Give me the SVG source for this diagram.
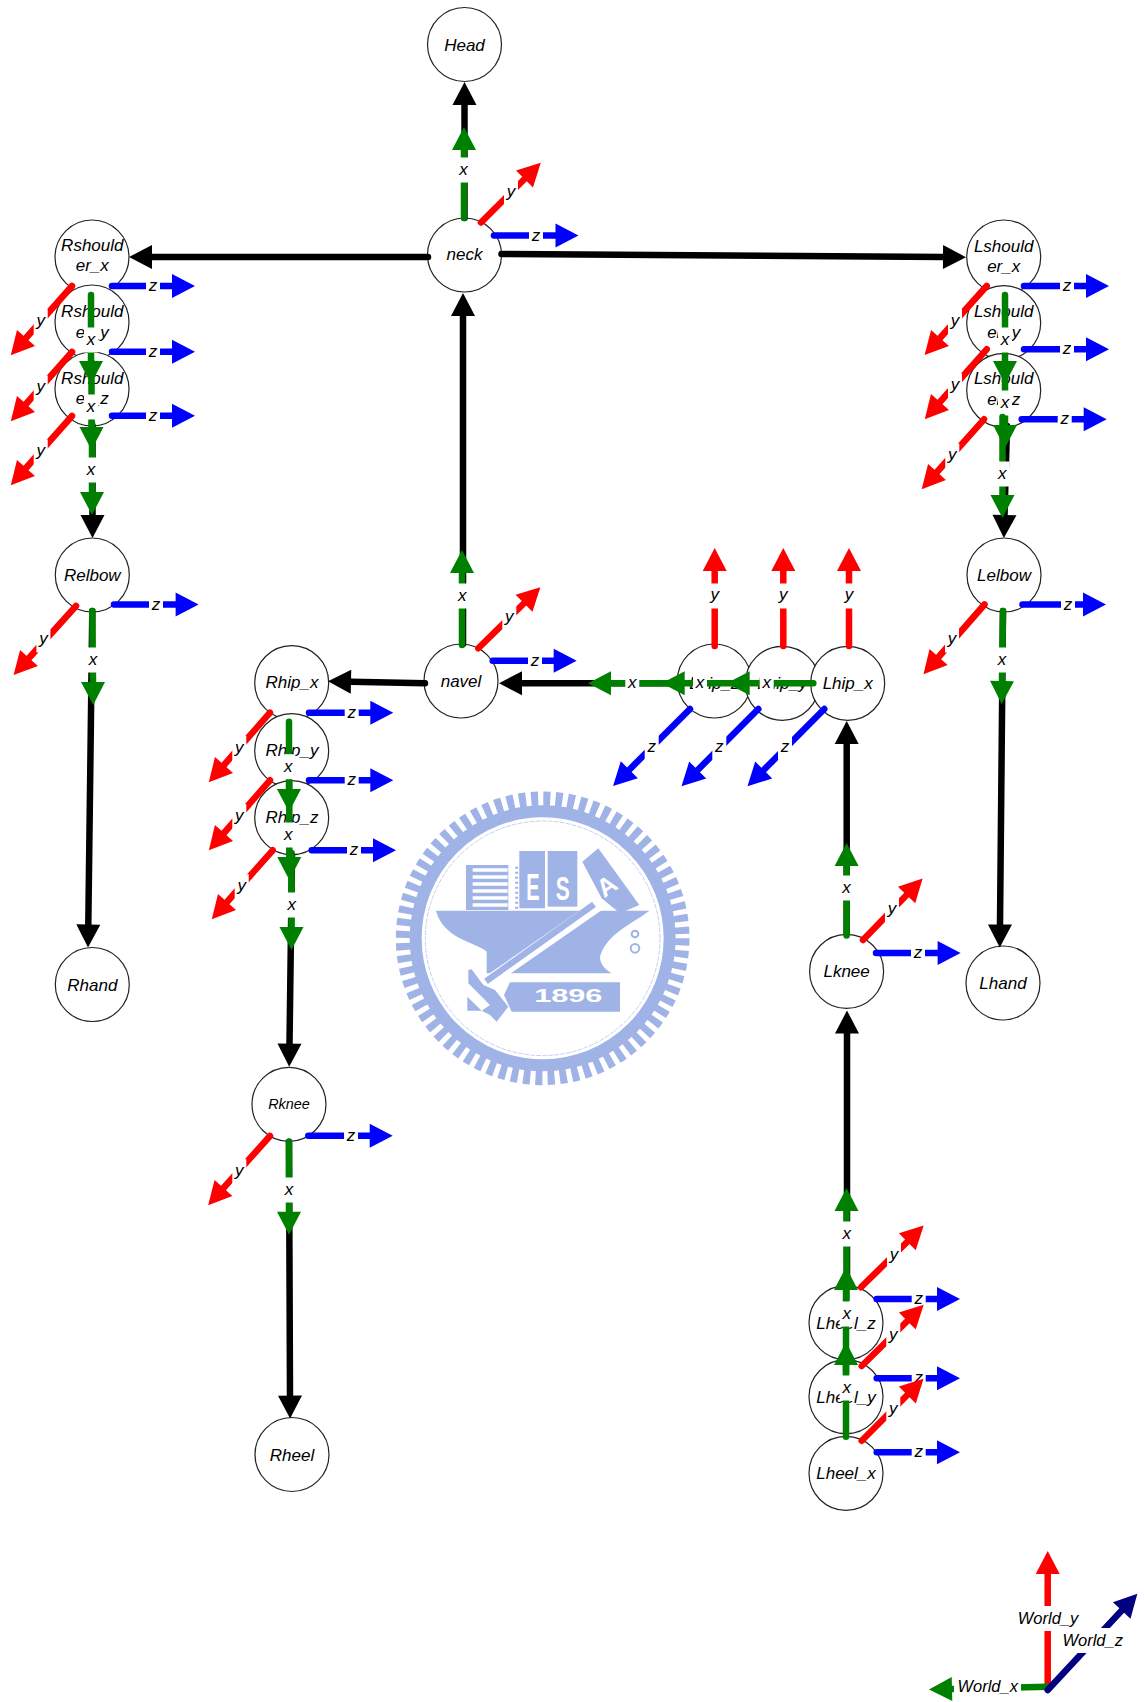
<svg xmlns="http://www.w3.org/2000/svg" width="1144" height="1702" viewBox="0 0 1144 1702">
<style>
text{font-family:"Liberation Sans",Arial,sans-serif;font-style:italic;font-size:17px;text-anchor:middle;fill:#000}
.n circle,circle.n{fill:#fff;stroke:#222;stroke-width:1.2}
.sm{font-size:14.4px}
.w{font-size:16.5px}
path.a{fill:none;stroke-width:6.5;stroke-linecap:round}
.k{stroke:#000;marker-end:url(#mk)}
.g{stroke:#008000;marker-end:url(#mg)}
.r{stroke:#f00;marker-end:url(#mr)}
.b{stroke:#00f;marker-end:url(#mb)}
.v{stroke:#000080;marker-end:url(#mv)}
.lg{fill:#a0b3e6}
</style>
<defs>
<marker id="mk" markerUnits="userSpaceOnUse" markerWidth="24" markerHeight="26" refX="0" refY="12" orient="auto" overflow="visible"><path d="M0 0L23 12L0 24z" fill="#000"/></marker>
<marker id="mg" markerUnits="userSpaceOnUse" markerWidth="24" markerHeight="26" refX="0" refY="12" orient="auto" overflow="visible"><path d="M0 0L23 12L0 24z" fill="#008000"/></marker>
<marker id="mr" markerUnits="userSpaceOnUse" markerWidth="24" markerHeight="26" refX="0" refY="12" orient="auto" overflow="visible"><path d="M0 0L23 12L0 24z" fill="#f00"/></marker>
<marker id="mb" markerUnits="userSpaceOnUse" markerWidth="24" markerHeight="26" refX="0" refY="12" orient="auto" overflow="visible"><path d="M0 0L23 12L0 24z" fill="#00f"/></marker>
<marker id="mv" markerUnits="userSpaceOnUse" markerWidth="24" markerHeight="26" refX="0" refY="12" orient="auto" overflow="visible"><path d="M0 0L23 12L0 24z" fill="#000080"/></marker>
<rect id="lb" x="-7" y="-12.5" width="14" height="25" fill="#fff"/>
</defs>
<rect width="1144" height="1702" fill="#fff"/>

<g id="logo" transform="translate(380 770) scale(.3333)">
<circle cx="488" cy="505" r="418" fill="none" stroke="#a0b3e6" stroke-width="45" stroke-dasharray="21 15.5"/>
<circle cx="488" cy="505" r="381" fill="none" stroke="#a0b3e6" stroke-width="36"/>
<circle cx="488" cy="505" r="352" fill="none" stroke="#c3cff0" stroke-width="3" stroke-dasharray="14 4"/>
<rect class="lg" x="258" y="285" width="127" height="135"/>
<path d="M278 300H383M278 321H383M278 342H383M278 363H383M278 384H383M278 405H383" stroke="#fff" stroke-width="11" fill="none"/>
<path d="M410 290V418" stroke="#a0b3e6" stroke-width="9" stroke-dasharray="6 9" fill="none"/>
<rect class="lg" x="418" y="243" width="77" height="172"/>
<rect class="lg" x="503" y="243" width="89" height="167"/>
<path class="lg" d="M607 275L655 235L778 405L720 430L665 385z"/>
<text x="459" y="390" textLength="40" lengthAdjust="spacingAndGlyphs" style="font-size:110px;fill:#fff;font-style:normal;font-weight:bold">E</text>
<text x="548" y="390" textLength="42" lengthAdjust="spacingAndGlyphs" style="font-size:100px;fill:#fff;font-style:normal;font-weight:bold">S</text>
<text transform="translate(695 369) rotate(-35)" style="font-size:76px;fill:#fff;font-style:normal;font-weight:bold">A</text>
<path class="lg" d="M168 422H808C760 460 680 490 660 560C660 585 680 600 695 610H320V545C300 520 190 510 168 422z"/>
<path d="M660 402L306 648" stroke="#fff" stroke-width="36" fill="none"/>
<path d="M642 403L318 634" stroke="#a0b3e6" stroke-width="19" fill="none"/>
<path class="lg" d="M265 600L275 598L310 645L345 660L385 710L350 755L330 735L305 722L262 722V680L305 722L330 705L265 640z"/>
<path class="lg" d="M390 637H720V725H395L372 675z"/>
<text x="565" y="697" textLength="205" lengthAdjust="spacingAndGlyphs" style="font-size:56px;fill:#fff;font-style:normal;font-weight:bold">1896</text>
<circle cx="765" cy="492" r="10" fill="none" stroke="#a0b3e6" stroke-width="6"/>
<circle cx="765" cy="535" r="13" fill="none" stroke="#a0b3e6" stroke-width="6"/>
</g>

<g id="Head" class="n"><circle cx="464.5" cy="44.5" r="37"/><text x="464.5" y="50.5">Head</text></g>
<g id="neck" class="n"><circle cx="464.5" cy="255" r="37"/><text x="464.5" y="260">neck</text></g>
<g id="navel" class="n"><circle cx="461" cy="681" r="37"/><text x="461" y="687">navel</text></g>
<g id="Rshoulder_x" class="n"><circle cx="92" cy="257" r="37"/><text x="92.3" y="251">Rshould</text><text x="92.3" y="271">er_x</text></g>
<g id="Rshoulder_y" class="n"><circle cx="92" cy="322" r="37"/><text x="92.3" y="317">Rshould</text><text x="92.3" y="338">er_y</text></g>
<g id="Rshoulder_z" class="n"><circle cx="92" cy="389" r="37"/><text x="92.3" y="384">Rshould</text><text x="92.3" y="404">er_z</text></g>
<g id="Lshoulder_x" class="n"><circle cx="1003.7" cy="257" r="37"/><text x="1003.7" y="252">Lshould</text><text x="1003.7" y="272">er_x</text></g>
<g id="Lshoulder_y" class="n"><circle cx="1003.7" cy="322.7" r="37"/><text x="1003.7" y="317">Lshould</text><text x="1003.7" y="338">er_y</text></g>
<g id="Lshoulder_z" class="n"><circle cx="1003.7" cy="390.3" r="37"/><text x="1003.7" y="384">Lshould</text><text x="1003.7" y="405">er_z</text></g>
<g id="Relbow" class="n"><circle cx="92.3" cy="575" r="37"/><text x="92.3" y="581">Relbow</text></g>
<g id="Lelbow" class="n"><circle cx="1004" cy="575" r="37"/><text x="1004" y="581">Lelbow</text></g>
<g id="Rhand" class="n"><circle cx="92.3" cy="984.5" r="37"/><text x="92.3" y="990.5">Rhand</text></g>
<g id="Lhand" class="n"><circle cx="1003" cy="983" r="37"/><text x="1003" y="989">Lhand</text></g>
<g id="Rhip_x" class="n"><circle cx="291.7" cy="682.7" r="37"/><text x="292" y="688">Rhip_x</text></g>
<g id="Rhip_y" class="n"><circle cx="291.7" cy="750.7" r="37"/><text x="292" y="756">Rhip_y</text></g>
<g id="Rhip_z" class="n"><circle cx="291.7" cy="817.7" r="37"/><text x="292" y="823">Rhip_z</text></g>
<g id="Rknee" class="n"><circle cx="289" cy="1104.3" r="37"/><text class="sm" x="289" y="1109">Rknee</text></g>
<g id="Rheel" class="n"><circle cx="292" cy="1454.5" r="37"/><text x="292" y="1460.5">Rheel</text></g>
<g id="Lhip_z" class="n"><circle cx="714.3" cy="681" r="37"/><text x="714.3" y="689">Lhip_z</text></g>
<g id="Lhip_y" class="n"><circle cx="782.3" cy="683.3" r="37"/><text x="782.3" y="689">Lhip_y</text></g>
<g id="Lhip_x" class="n"><circle cx="847.7" cy="683.3" r="37"/><text x="847.7" y="689">Lhip_x</text></g>
<g id="Lknee" class="n"><circle cx="846.6" cy="971.4" r="37"/><text x="846.6" y="977">Lknee</text></g>
<g id="Lheel_z" class="n"><circle cx="846" cy="1322.7" r="37"/><text x="846" y="1328.5">Lheel_z</text></g>
<g id="Lheel_y" class="n"><circle cx="846" cy="1396.7" r="37"/><text x="846" y="1402.5">Lheel_y</text></g>
<g id="Lheel_x" class="n"><circle cx="846" cy="1473.3" r="37"/><text x="846" y="1479">Lheel_x</text></g>

<g id="connectors">
<path class="a k" d="M464.5 218V105"/>
<path class="a k" d="M428 257H152"/>
<path class="a k" d="M501.5 254L943 257"/>
<path class="a k" d="M463 644V316"/>
<path class="a k" d="M92.5 426V515"/>
<path class="a k" d="M1007 426L1004.5 515"/>
<path class="a k" d="M92.3 611L88.3 924.5"/>
<path class="a k" d="M1003 611L1000 924.5"/>
<path class="a k" d="M425 683.3L351 681.8"/>
<path class="a k" d="M677 683.3H522"/>
<path class="a k" d="M292 855L289.5 1043.7"/>
<path class="a k" d="M289 1141.7L290 1395.6"/>
<path class="a k" d="M846.7 933V744"/>
<path class="a k" d="M847 1286L847 1033.5"/>

<path class="a g" d="M464 218V150"/><use href="#lb" x="463.5" y="170"/><text x="463.5" y="175">x</text>
<path class="a r" d="M481 222.5L524.5 179"/><use href="#lb" x="511" y="193"/><text x="511" y="197">y</text>
<path class="a b" d="M494 235.5H555.5"/><use href="#lb" x="536" y="235.5"/><text x="536" y="240.5">z</text>

<path class="a r" d="M72 286L26 338"/><use href="#lb" x="40.7" y="321.7"/><text x="40.7" y="326">y</text>
<path class="a b" d="M112 286H172"/><use href="#lb" x="153" y="286"/><text x="153" y="291">z</text>
<path class="a g" d="M91 295V361"/><use href="#lb" x="91" y="340"/><text x="91" y="345">x</text>
<path class="a r" d="M72 352L26 404"/><use href="#lb" x="40.7" y="388"/><text x="40.7" y="392">y</text>
<path class="a b" d="M112 351.7H172"/><use href="#lb" x="153" y="351.7"/><text x="153" y="356.7">z</text>
<path class="a g" d="M91.5 362V427"/><use href="#lb" x="91" y="407"/><text x="91" y="412">x</text>
<path class="a r" d="M72 416L26 468"/><use href="#lb" x="40.7" y="452"/><text x="40.7" y="456">y</text>
<path class="a b" d="M112 415.7H172"/><use href="#lb" x="153" y="415.7"/><text x="153" y="420.7">z</text>
<path class="a g" d="M92 423V492"/><use href="#lb" x="91" y="470"/><text x="91" y="475">x</text>

<path class="a r" d="M986.7 286L940 338"/><use href="#lb" x="955" y="321.7"/><text x="955" y="326">y</text>
<path class="a b" d="M1024 286H1086"/><use href="#lb" x="1067" y="286"/><text x="1067" y="291">z</text>
<path class="a g" d="M1005 295V361"/><use href="#lb" x="1005" y="340"/><text x="1005" y="345">x</text>
<path class="a r" d="M986.7 349.3L940 402"/><use href="#lb" x="955" y="386"/><text x="955" y="390">y</text>
<path class="a b" d="M1024 349.3H1086"/><use href="#lb" x="1067" y="349.3"/><text x="1067" y="354.3">z</text>
<path class="a g" d="M1005 362V425"/><use href="#lb" x="1005" y="403"/><text x="1005" y="408">x</text>
<path class="a r" d="M984 419.3L937 472"/><use href="#lb" x="952.3" y="456"/><text x="952.3" y="460">y</text>
<path class="a b" d="M1021.7 419.3H1083.7"/><use href="#lb" x="1064.7" y="419.3"/><text x="1064.7" y="424.3">z</text>
<path class="a g" d="M1002.5 417V495"/><use href="#lb" x="1002.3" y="474"/><text x="1002.3" y="479">x</text>

<path class="a r" d="M76 606L29 658"/><use href="#lb" x="43.4" y="640"/><text x="43.4" y="644">y</text>
<path class="a b" d="M114 604.5H175.6"/><use href="#lb" x="156" y="604.5"/><text x="156" y="609.5">z</text>
<path class="a g" d="M92.3 611L93 682"/><use href="#lb" x="93" y="660"/><text x="93" y="665">x</text>
<path class="a r" d="M984.5 604.5L938.6 657"/><use href="#lb" x="952" y="640"/><text x="952" y="644">y</text>
<path class="a b" d="M1022.5 604.5H1083"/><use href="#lb" x="1068" y="604.5"/><text x="1068" y="609.5">z</text>
<path class="a g" d="M1003 611L1002 681"/><use href="#lb" x="1002" y="660"/><text x="1002" y="665">x</text>

<path class="a g" d="M462 645V573"/><use href="#lb" x="462.3" y="596"/><text x="462.3" y="601">x</text>
<path class="a r" d="M478.3 648.3L524 603.3"/><use href="#lb" x="509.3" y="617.3"/><text x="509.3" y="621.5">y</text>
<path class="a b" d="M492.7 660.7H553.7"/><use href="#lb" x="535" y="660.7"/><text x="535" y="665.7">z</text>

<path class="a r" d="M270 712.7L224 765"/><use href="#lb" x="239.3" y="748.3"/><text x="239.3" y="752.5">y</text>
<path class="a b" d="M309 712.7H370.3"/><use href="#lb" x="351.7" y="712.7"/><text x="351.7" y="717.7">z</text>
<path class="a g" d="M289 721.7V789"/><use href="#lb" x="288.3" y="766.7"/><text x="288.3" y="771.7">x</text>
<path class="a r" d="M270 780.3L224 833"/><use href="#lb" x="239.3" y="816.7"/><text x="239.3" y="821">y</text>
<path class="a b" d="M309 780.3H370.3"/><use href="#lb" x="351.7" y="780.3"/><text x="351.7" y="785.3">z</text>
<path class="a g" d="M289.3 783V857"/><use href="#lb" x="288.3" y="835"/><text x="288.3" y="840">x</text>
<path class="a r" d="M272.7 850.3L227 902"/><use href="#lb" x="241.7" y="886.7"/><text x="241.7" y="891">y</text>
<path class="a b" d="M311.7 850.3H373"/><use href="#lb" x="354" y="850.3"/><text x="354" y="855.3">z</text>
<path class="a g" d="M291.5 853V927"/><use href="#lb" x="291.7" y="905"/><text x="291.7" y="910">x</text>

<path class="a r" d="M270 1136L223.5 1188"/><use href="#lb" x="239.3" y="1171.7"/><text x="239.3" y="1176">y</text>
<path class="a b" d="M308.3 1135.7H369.7"/><use href="#lb" x="351" y="1135.7"/><text x="351" y="1140.7">z</text>
<path class="a g" d="M289 1141.7V1211.7"/><use href="#lb" x="289" y="1190"/><text x="289" y="1195">x</text>

<path class="a g" d="M678 683.3H611"/><use href="#lb" x="632.3" y="683.3"/><text x="632.3" y="688.3">x</text>
<path class="a r" d="M714.7 646V571"/><use href="#lb" x="714.7" y="596"/><text x="714.7" y="600">y</text>
<path class="a b" d="M690 709L629.3 769.7"/><use href="#lb" x="651.7" y="746.7"/><text x="651.7" y="751.7">z</text>
<path class="a g" d="M747 683.3H684.7"/><use href="#lb" x="700" y="683.3"/><text x="700" y="688.3">x</text>
<path class="a r" d="M783.3 646V571"/><use href="#lb" x="783.3" y="596"/><text x="783.3" y="600">y</text>
<path class="a b" d="M758.3 709L697.7 770"/><use href="#lb" x="719.3" y="747.3"/><text x="719.3" y="752.3">z</text>
<path class="a g" d="M813.3 683.3H749.7"/><use href="#lb" x="766.7" y="683.3"/><text x="766.7" y="688.3">x</text>
<path class="a r" d="M849 646V571"/><use href="#lb" x="849" y="596"/><text x="849" y="600">y</text>
<path class="a b" d="M824.3 709L763.7 770"/><use href="#lb" x="785" y="747.3"/><text x="785" y="752.3">z</text>

<path class="a g" d="M846.6 935.6V866"/><use href="#lb" x="846.6" y="888"/><text x="846.6" y="893">x</text>
<path class="a r" d="M863 940L906.6 895"/><use href="#lb" x="892" y="909.6"/><text x="892" y="914">y</text>
<path class="a b" d="M876 953H937.6"/><use href="#lb" x="918" y="953"/><text x="918" y="958">z</text>

<path class="a g" d="M846.5 1299.3V1211"/><use href="#lb" x="846.7" y="1234"/><text x="846.7" y="1239">x</text>
<path class="a r" d="M861 1287.3L907.3 1241.7"/><use href="#lb" x="894" y="1255.7"/><text x="894" y="1260">y</text>
<path class="a b" d="M876.7 1299H937"/><use href="#lb" x="918.7" y="1299"/><text x="918.7" y="1304">z</text>
<path class="a g" d="M846 1373V1290"/><use href="#lb" x="846.7" y="1314"/><text x="846.7" y="1319">x</text>
<path class="a r" d="M861.7 1366L907.3 1321"/><use href="#lb" x="893.3" y="1335.7"/><text x="893.3" y="1340">y</text>
<path class="a b" d="M876.7 1378.3H937"/><use href="#lb" x="918.7" y="1378.3"/><text x="918.7" y="1383.3">z</text>
<path class="a g" d="M846 1436.7V1365"/><use href="#lb" x="846.7" y="1388"/><text x="846.7" y="1393">x</text>
<path class="a r" d="M861.7 1440.7L907.3 1395"/><use href="#lb" x="893.3" y="1410"/><text x="893.3" y="1414">y</text>
<path class="a b" d="M876.7 1452.3H937"/><use href="#lb" x="918.7" y="1452.3"/><text x="918.7" y="1457.3">z</text>

<path class="a r" d="M1047.7 1689V1574"/>
<rect x="1016" y="1606" width="64" height="25" fill="#fff"/><text class="w" x="1048" y="1624">World_y</text>
<path class="a g" d="M1047.7 1686.7L952 1689"/>
<rect x="954" y="1674" width="67" height="25" fill="#fff"/><text class="w" x="987.7" y="1692">World_x</text>
<path class="a v" d="M1047.7 1690L1121.7 1610.5"/>
<rect x="1062" y="1628" width="61" height="25" fill="#fff"/><text class="w" x="1092.7" y="1646">World_z</text>
</g>
</svg>
